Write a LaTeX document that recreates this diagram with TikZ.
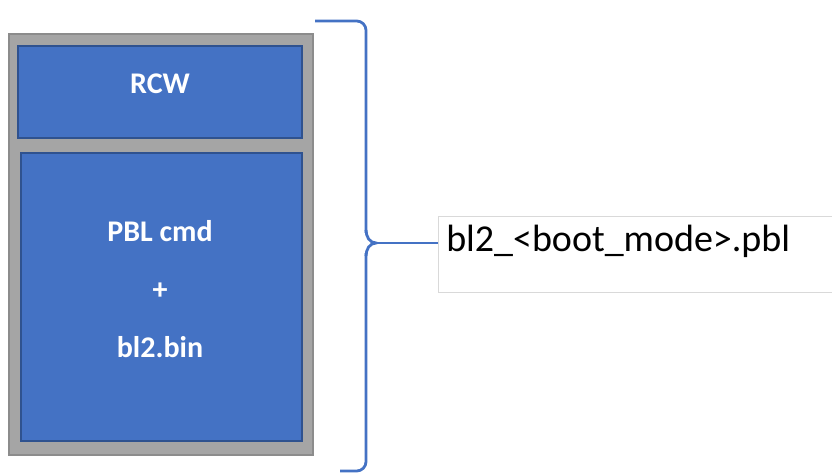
\documentclass[tikz,border=0pt]{standalone}
\usepackage{fontspec}
\setmainfont{Carlito}
\usetikzlibrary{positioning}
\definecolor{boxblue}{HTML}{4472C4}
\definecolor{boxedge}{HTML}{2F528F}
\definecolor{framegray}{HTML}{A5A5A5}
\definecolor{frameedge}{HTML}{8C8C8C}
\begin{document}
\begin{tikzpicture}[x=0.75pt,y=-0.75pt,
  frame/.style={draw=frameedge,fill=framegray,line width=1pt,minimum width=228pt,minimum height=315.75pt,inner sep=0pt},
  part/.style={draw=boxedge,fill=boxblue,line width=1pt,inner sep=0pt},
  parttext/.style={text=white,font=\bfseries\fontsize{22.5}{43.5}\selectfont,align=center},
  brace/.style={draw=boxblue,line width=2.1pt,rounded corners=7pt},
  lblbox/.style={draw=black!15,line width=0.8pt,minimum width=320pt,minimum height=57pt,inner sep=0pt}]
  \useasboundingbox (0,0) rectangle (832,474);

  \node[frame] (stack) at (161,244.5) {};
  \node[part,minimum width=213pt,minimum height=69pt] (rcw) at (160,92) {};
  \node[part,minimum width=210.75pt,minimum height=216pt] (pbl) at (161.5,297) {};
  \node[parttext] (rcwtxt) at (160,84) {RCW};
  \node[parttext] (pbltxt) at (160,289) {PBL cmd\\+\\bl2.bin};

  \node[lblbox,anchor=north west] (lbl) at (438,216) {};
  \node[anchor=base west,inner sep=0pt,font=\fontsize{28.5}{34}\selectfont] (lbltxt) at (446,252) {bl2\_<boot\_mode>.pbl};

  % brace from the stack to the file name
  \coordinate (tip) at (376,243);
  \draw[brace] (315,21) -- (366,21) -- (366,233);
  \draw[brace,rounded corners=0pt] (366,230) to[out=-90,in=180] (tip) to[out=180,in=90] (366,256);
  \draw[brace] (366,253) -- (366,471) -- (340,471);
  \draw[brace] (tip) -- (tip -| lbl.west);
\end{tikzpicture}
\end{document}
